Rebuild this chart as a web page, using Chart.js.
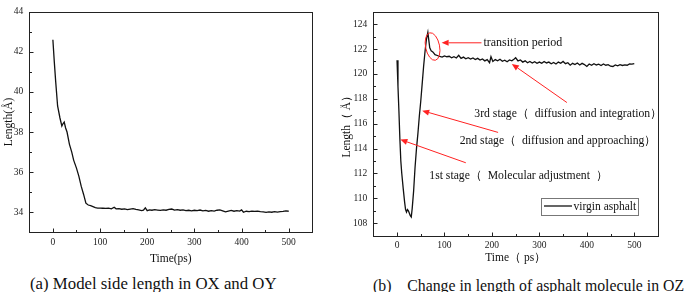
<!DOCTYPE html>
<html><head><meta charset="utf-8">
<script src="https://cdn.jsdelivr.net/npm/chart.js@4"></script>
<style>
body{margin:0;background:#fff;width:685px;height:292px;overflow:hidden;position:relative;font-family:"Liberation Serif","Times New Roman",serif;}
#wa{position:absolute;left:0;top:0;width:335px;height:270px;}
#wb{position:absolute;left:340px;top:0;width:345px;height:270px;}
.cap{position:absolute;white-space:pre;line-height:20px;color:#111}
</style></head><body>
<div id="wa"><canvas id="ca"></canvas></div>
<div id="wb"><canvas id="cb"></canvas></div>
<div class="cap" style="left:30px;top:274px;font-size:16.8px">(a) Model side length in OX and OY</div>
<div class="cap" style="left:373px;top:276px;font-size:15.8px">(b)    Change in length of asphalt molecule in OZ</div>
<script>
// ---- Data: (a) model side length in OX and OY ----
const timeA = [0,3,6,10,15,19,21,24,27,30,35,40,44,50,55,60,65,70,75,80,85,90,95,100,106,112,118,124,130,134,140,146,152,158,164,170,176,182,188,192,196,200,205,210,216,222,228,234,240,246,252,258,264,270,276,282,288,294,300,306,312,318,324,330,336,342,348,354,360,366,372,378,384,390,396,400,404,410,416,422,428,434,440,446,452,458,464,470,476,482,488,494,500];
const lengthA = [42.6,41.5,40.5,39.3,38.7,38.3,38.4,38.5,38.2,38.0,37.4,37.0,36.6,36.2,35.8,35.3,34.9,34.45,34.36,34.33,34.28,34.23,34.21,34.21,34.2,34.19,34.2,34.17,34.25,34.17,34.18,34.15,34.17,34.13,34.16,34.18,34.14,34.12,34.08,34.1,34.22,34.08,34.12,34.1,34.13,34.11,34.09,34.12,34.1,34.14,34.16,34.11,34.13,34.1,34.12,34.08,34.1,34.07,34.1,34.08,34.11,34.07,34.09,34.05,34.08,34.06,34.1,34.12,34.07,34.02,34.06,34.09,34.05,34.08,34.06,34.12,34.0,34.05,34.03,34.06,34.04,34.06,34.03,34.02,33.99,34.02,34.0,34.03,34.01,34.03,34.04,34.07,34.05];
const xTicksA = [0,100,200,300,400,500];
const yTicksA = [34,36,38,40,42,44];

// ---- Data: (b) change in length of asphalt molecule in OZ ----
const timeB = [0,2,4,6,8,10,13,16,18,20,22,24,26,28,30,32,35,38,41,44,47,50,53,56,59,62,65,67,69,72,76,80,85,90,95,100,105,110,115,120,125,130,135,140,145,150,155,160,165,170,175,180,185,190,195,198,202,207,212,217,222,227,232,237,242,247,250,255,260,265,270,275,280,285,290,295,300,305,310,315,320,325,330,335,340,345,350,355,360,365,370,375,380,385,390,395,400,405,410,415,420,425,430,435,440,445,450,455,460,465,470,475,480,485,490,495,500];
const lengthB = [121.1,119.0,117.0,114.8,113.0,112.0,110.8,109.7,109.1,108.9,109.1,109.0,108.8,108.6,108.5,109.2,110.6,112.5,114.0,115.2,116.6,117.8,119.2,120.6,121.8,122.8,123.35,122.7,122.1,121.85,121.75,121.55,121.48,121.4,121.35,121.45,121.38,121.42,121.3,121.38,121.28,121.5,121.25,121.35,121.22,121.3,121.2,121.28,121.15,121.25,121.12,121.2,121.05,121.15,120.9,121.38,121.0,121.15,121.05,121.18,121.02,121.1,120.98,121.12,121.05,121.2,121.3,121.05,121.12,120.95,121.05,120.9,121.0,120.88,120.98,120.85,120.95,120.85,121.0,120.88,120.95,120.82,120.92,120.8,120.95,120.85,121.0,120.82,120.9,120.7,120.85,120.75,120.88,120.72,120.85,120.75,120.6,120.8,120.7,120.82,120.72,120.78,120.68,120.8,120.7,120.75,120.62,120.6,120.72,120.65,120.75,120.68,120.72,120.7,120.8,120.78,120.82];
const xTicksB = [0,100,200,300,400,500];
const yTicksB = [108,110,112,114,116,118,120,122,124];
const seriesNameB = 'virgin asphalt';

// annotations of panel (b), anchored in data units
const notesB = [
  {text:'transition period', tx:182, ty:122.46, from:[178,122.5], to:[94,122.5]},
  {text:'3rd stage（  diffusion and integration）', tx:163, ty:116.8, from:[358,117.7], to:[242,120.8]},
  {text:'2nd stage（  diffusion and approaching）', tx:132, ty:114.6, from:[213,115.3], to:[53,117.05]},
  {text:'1st stage（  Molecular adjustment  ）', tx:68, ty:111.8, from:[145,112.86], to:[7,114.73]}
];
const ringB = {x:74.9, y:122.2};

const FONT = '"Liberation Serif","Times New Roman",serif';
Chart.defaults.font.family = FONT;
Chart.defaults.color = '#222';

function midpoints(arr){ const r=[]; for(let i=0;i<arr.length-1;i++) r.push((arr[i]+arr[i+1])/2); return r; }

const framePlugin = {
  id:'frame',
  afterDatasetsDraw(chart, args, o){
    const {ctx, chartArea:a, scales:{x,y}} = chart;
    ctx.save();
    ctx.strokeStyle='#222'; ctx.lineWidth=1;
    const L=Math.round(a.left)+0.5, R=Math.round(a.right)+0.5, T=Math.round(a.top)+0.5, B=Math.round(a.bottom)+0.5;
    ctx.strokeRect(L,T,R-L,B-T);
    ctx.beginPath();
    o.xT.forEach(v=>{const p=Math.round(x.getPixelForValue(v))+0.5; ctx.moveTo(p,B); ctx.lineTo(p,B-4);});
    midpoints(o.xT).forEach(v=>{const p=Math.round(x.getPixelForValue(v))+0.5; ctx.moveTo(p,B); ctx.lineTo(p,B-2.5);});
    o.yT.forEach(v=>{const p=Math.round(y.getPixelForValue(v))+0.5; ctx.moveTo(L,p); ctx.lineTo(L+4,p);});
    midpoints(o.yT).forEach(v=>{const p=Math.round(y.getPixelForValue(v))+0.5; ctx.moveTo(L,p); ctx.lineTo(L+2.5,p);});
    ctx.stroke();
    ctx.restore();
  }
};

const notePlugin = {
  id:'notes',
  afterDatasetsDraw(chart, args, o){
    if(!o.notes) return;
    const {ctx, chartArea:a, scales:{x,y}} = chart;
    ctx.save();
    const red='#f22';
    ctx.strokeStyle=red; ctx.fillStyle=red; ctx.lineWidth=1;
    o.notes.forEach(n=>{
      const x1=x.getPixelForValue(n.from[0]), y1=y.getPixelForValue(n.from[1]);
      const x2=x.getPixelForValue(n.to[0]), y2=y.getPixelForValue(n.to[1]);
      const ang=Math.atan2(y2-y1,x2-x1), hl=7, hw=3;
      const bx=x2-hl*Math.cos(ang), by=y2-hl*Math.sin(ang);
      ctx.beginPath(); ctx.moveTo(x1,y1); ctx.lineTo(bx,by); ctx.stroke();
      ctx.beginPath(); ctx.moveTo(x2,y2);
      ctx.lineTo(bx+hw*Math.sin(ang), by-hw*Math.cos(ang));
      ctx.lineTo(bx-hw*Math.sin(ang), by+hw*Math.cos(ang));
      ctx.closePath(); ctx.fill();
    });
    // ring
    const rx=x.getPixelForValue(o.ring.x), ry=y.getPixelForValue(o.ring.y);
    ctx.beginPath(); ctx.ellipse(rx,ry,7,14,-0.2,0,Math.PI*2); ctx.stroke();
    // texts
    ctx.fillStyle='#111'; ctx.textBaseline='middle'; ctx.textAlign='left';
    o.notes.forEach((n,i)=>{ ctx.font=(i===0?'12px ':'11.7px ')+FONT; ctx.fillText(n.text, x.getPixelForValue(n.tx), y.getPixelForValue(n.ty)); });
    // legend
    const lw=96.7, lh=16.6;
    const lx=a.right-20.3-lw, ly=a.bottom-21.4-lh;
    ctx.strokeStyle='#777'; ctx.lineWidth=1;
    ctx.strokeRect(Math.round(lx)+0.5, Math.round(ly)+0.5, Math.round(lw), Math.round(lh));
    ctx.strokeStyle='#111'; ctx.lineWidth=1.3;
    ctx.beginPath(); ctx.moveTo(lx+3, ly+lh/2); ctx.lineTo(lx+31, ly+lh/2); ctx.stroke();
    ctx.fillStyle='#111'; ctx.font='11.5px '+FONT;
    ctx.fillText(chart.data.datasets[0].label, lx+32.5, ly+lh/2+0.5);
    ctx.restore();
  }
};

function makeChart(id, xs, ys, label, xT, yT, yMin, yMax, geo, titles, extra){
  return new Chart(document.getElementById(id), {
    type:'line',
    data:{datasets:[{label, data:xs.map((t,i)=>({x:t,y:ys[i]})), borderColor:'#111', borderWidth:1.3, pointRadius:0, tension:0, fill:false}]},
    options:{
      responsive:true, maintainAspectRatio:false, animation:false, devicePixelRatio:1,
      layout:{padding:{left:0, top:geo.top, right:geo.right, bottom:0}},
      plugins:{legend:{display:false}, tooltip:{enabled:false}, frame:{xT, yT}, notes:extra||{}},
      scales:{
        x:{type:'linear', min:-50, max:550,
           afterBuildTicks:s=>{s.ticks=xT.map(v=>({value:v}));},
           afterFit:s=>{s.height=geo.xh;},
           grid:{display:false, drawTicks:false}, border:{display:false},
           ticks:{padding:4, font:{size:9.5}, color:'#222'},
           title:{display:true, text:titles[0], font:{size:11.5}, color:'#111', padding:{top:0,bottom:geo.xtp}}},
        y:{type:'linear', min:yMin, max:yMax,
           afterBuildTicks:s=>{s.ticks=yT.map(v=>({value:v}));},
           afterFit:s=>{s.width=geo.yw;},
           grid:{display:false, drawTicks:false}, border:{display:false},
           ticks:{padding:6, font:{size:9.5}, color:'#222'},
           title:{display:true, text:titles[1], font:{size:11.5}, color:'#111', padding:{top:geo.ytp,bottom:0}}}
      }
    },
    plugins:[framePlugin, notePlugin]
  });
}

makeChart('ca', timeA, lengthA, 'Model side length', xTicksA, yTicksA, 33, 44,
  {top:6.7, right:22.7, xh:37.7, yw:29.3, xtp:3.8, ytp:2}, ['Time(ps)','Length(Å)']);
makeChart('cb', timeB, lengthB, seriesNameB, xTicksB, yTicksB, 107, 125,
  {top:1, right:27, xh:34.3, yw:33.3, xtp:4.8, ytp:0}, ['Time（ ps）','Length（ Å）'],
  {notes:notesB, ring:ringB});
</script>
</body></html>
